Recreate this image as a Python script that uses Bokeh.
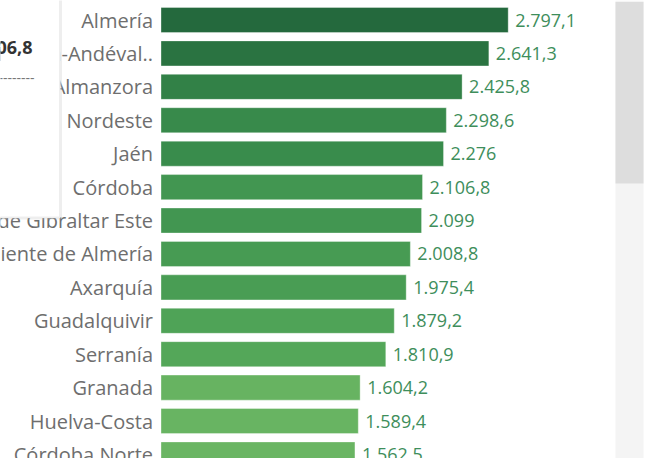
from bokeh.plotting import figure
from bokeh.models import ColumnDataSource, Range1d, BoxAnnotation, Label
from bokeh.transform import linear_cmap
from bokeh.core.properties import value
from bokeh.embed import file_html
from bokeh.resources import INLINE

# ---- data -------------------------------------------------------------
regions = ["Almería", "Sierra de Huelva-Andéval..", "Almanzora", "Nordeste", "Jaén",
           "Córdoba", "Campo de Gibraltar Este", "Poniente de Almería", "Axarquía",
           "Guadalquivir", "Serranía", "Granada", "Huelva-Costa", "Córdoba Norte"]
values = [2797.1, 2641.3, 2425.8, 2298.6, 2276.0, 2106.8, 2099.0, 2008.8, 1975.4,
          1879.2, 1810.9, 1604.2, 1589.4, 1562.5]
tooltip_region = "Córdoba"


def fmt(v):
    s = f"{v:,.1f}".replace(",", "X").replace(".", ",").replace("X", ".")
    if s.endswith(",0"):
        s = s[:-2]
    return s


# ---- colour ramp (Tableau-like green) ----------------------------------
def hex2rgb(h):
    h = h.lstrip("#")
    return tuple(int(h[i:i + 2], 16) for i in (0, 2, 4))


stops = ["#6ab563", "#4fa357", "#3e924f", "#2f7d45", "#24693d"]
palette = []
n = 256
for k in range(n):
    t = k / (n - 1) * (len(stops) - 1)
    i = min(int(t), len(stops) - 2)
    f = t - i
    a, b = hex2rgb(stops[i]), hex2rgb(stops[i + 1])
    c = tuple(round(a[j] + (b[j] - a[j]) * f) for j in range(3))
    palette.append("#%02x%02x%02x" % c)

src = ColumnDataSource(dict(
    region=regions,
    value=values,
    idx=list(range(len(regions))),
    label=[fmt(v) for v in values],
))

W, H = 650, 458
x0_px, scale = 160.5, 0.12413          # pixel of zero, px per unit
pitch, first = 33.42, 19.5              # row pitch, first row centre

p = figure(width=W, height=H, output_backend="svg", toolbar_location=None,
           x_range=Range1d(-x0_px / scale, (W - x0_px) / scale),
           y_range=Range1d((H - first) / pitch, -first / pitch),
           min_border=0, outline_line_color=None)
p.axis.visible = False
p.grid.visible = False
p.background_fill_color = "white"
p.border_fill_color = "white"

p.hbar(y="idx", left=0, right="value", height=0.75, source=src,
       fill_color=linear_cmap("value", palette, min(values), max(values)),
       line_color="white", line_alpha=0.35, line_width=1)

p.text(x=0, y="idx", text="region", source=src, x_offset=-8,
       text_align="right", text_baseline="middle",
       text_font=value("Open Sans"), text_font_size="20px", text_color="#6e6e6e")

p.text(x="value", y="idx", text="label", source=src, x_offset=7,
       text_align="left", text_baseline="middle",
       text_font=value("Open Sans"), text_font_size="18px", text_color="#3e8e5b")

# ---- scrollbar --------------------------------------------------------
p.add_layout(BoxAnnotation(left=615, right=643, bottom=0, top=H,
                           left_units="screen", right_units="screen",
                           bottom_units="screen", top_units="screen",
                           fill_color="#f4f4f4", fill_alpha=1, line_color=None))
p.add_layout(BoxAnnotation(left=615, right=643, bottom=H - 183, top=H - 1.5,
                           left_units="screen", right_units="screen",
                           bottom_units="screen", top_units="screen",
                           fill_color="#dddddd", fill_alpha=1, line_color=None))

# ---- tooltip box (partially visible) ----------------------------------
p.add_layout(BoxAnnotation(left=-20, right=60, bottom=H - 217.5, top=H + 20,
                           left_units="screen", right_units="screen",
                           bottom_units="screen", top_units="screen",
                           fill_color="white", fill_alpha=1,
                           line_color="#c8c8c8", line_width=3))
p.add_layout(Label(x=32, y=H - 47, x_units="screen", y_units="screen",
                   text=fmt(values[regions.index(tooltip_region)]),
                   text_align="right", text_baseline="middle",
                   text_font="Open Sans", text_font_style="bold",
                   text_font_size="18px", text_color="#333333"))
p.add_layout(Label(x=-2, y=H - 77, x_units="screen", y_units="screen",
                   text="--------", text_align="left", text_baseline="middle",
                   text_font="Open Sans", text_font_size="14px",
                   text_color="#777777"))

open("out.html", "w").write(file_html(p, INLINE))
